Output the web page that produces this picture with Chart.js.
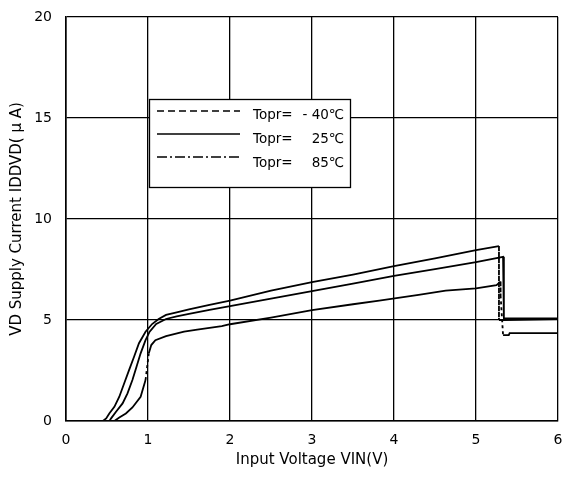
<!DOCTYPE html>
<html><head><meta charset="utf-8">
<script src="https://cdn.jsdelivr.net/npm/chart.js@4"></script>
<style>html,body{margin:0;padding:0;background:#fff}#wrap{width:565px;height:484px}</style>
</head><body><div id="wrap"><canvas id="c" width="565" height="484"></canvas></div>
<script>
// ---- data ----
const legendPrefix = 'Topr=';
const legendTemps = ['- 40℃', '25℃', '85℃'];
const seriesLabels = ['Topr= - 40℃', 'Topr= 25℃', 'Topr= 85℃'];
const xTicks = [0, 1, 2, 3, 4, 5, 6];
const yTicks = [0, 5, 10, 15, 20];

const vinM40 = [0, 0.45, 0.49, 0.53, 0.59, 0.65, 0.71, 0.77, 0.83, 0.89, 0.97, 1.05, 1.13, 1.22, 1.35, 1.5, 1.75, 2.0, 2.5, 3.0, 3.5, 4.0, 4.5, 5.0, 5.28, 5.28, 5.35, 6.0];
const iddM40 = [0, 0, 0.13, 0.38, 0.7, 1.2, 1.87, 2.53, 3.18, 3.85, 4.42, 4.8, 5.05, 5.25, 5.38, 5.52, 5.75, 5.96, 6.45, 6.87, 7.25, 7.67, 8.05, 8.46, 8.66, 5.0, 5.0, 5.05];

const vin25 = [0, 0.53, 0.55, 0.61, 0.69, 0.75, 0.81, 0.86, 0.91, 0.97, 1.02, 1.1, 1.22, 1.35, 1.5, 1.75, 2.0, 2.5, 3.0, 3.5, 4.0, 4.5, 5.0, 5.33, 5.34, 6.0];
const idd25 = [0, 0, 0.13, 0.46, 0.87, 1.37, 2.03, 2.69, 3.35, 4.0, 4.42, 4.8, 5.05, 5.18, 5.3, 5.5, 5.69, 6.06, 6.43, 6.8, 7.19, 7.52, 7.86, 8.13, 5.08, 5.08];

const vin85 = [0, 0.59, 0.65, 0.73, 0.81, 0.91, 0.97, 0.99, 1.01, 1.04, 1.09, 1.22, 1.44, 1.6, 1.9, 2.0, 2.5, 3.0, 3.5, 3.82, 4.3, 4.63, 5.0, 5.25, 5.3, 5.3, 5.33, 5.4, 5.41, 6.0];
const idd85 = [0, 0, 0.17, 0.37, 0.67, 1.2, 2.03, 2.69, 3.35, 3.76, 4.0, 4.2, 4.42, 4.52, 4.7, 4.79, 5.12, 5.49, 5.78, 5.96, 6.24, 6.45, 6.57, 6.72, 6.9, 6.2, 4.25, 4.25, 4.35, 4.35];

// ---- styles ----
const legendDash = [[7, 4], [], [10, 3, 2, 3]];
const dashedDrop = [true, false, true];
const FONT = "'DejaVu Sans', 'Liberation Sans', Arial, sans-serif";

function pts(xs, ys) { return xs.map((x, i) => ({ x: x, y: ys[i] })); }
const seriesData = [pts(vinM40, iddM40), pts(vin25, idd25), pts(vin85, idd85)];

const datasets = seriesData.map((d, i) => ({
  label: seriesLabels[i],
  data: d,
  borderColor: '#000',
  borderWidth: 1.8,
  pointRadius: 0,
  tension: 0,
  fill: false,
  segment: {
    borderDash: ctx => {
      if (!dashedDrop[i]) return undefined;
      const dx = Math.abs(ctx.p1.parsed.x - ctx.p0.parsed.x);
      const dy = Math.abs(ctx.p1.parsed.y - ctx.p0.parsed.y);
      return (dx < 0.05 && dy > 0.5) ? [3, 3] : undefined;
    }
  }
}));

const legendPlugin = {
  id: 'boxLegend',
  afterDraw(chart) {
    const ctx = chart.ctx;
    ctx.save();
    ctx.fillStyle = '#fff';
    ctx.fillRect(149, 99, 201, 88);
    ctx.strokeStyle = '#000';
    ctx.lineWidth = 1.3;
    ctx.strokeRect(149.5, 99.5, 201, 88);
    const rows = [111, 134, 157];
    const textY = [115, 139, 163];
    ctx.font = '13.5px ' + FONT;
    ctx.fillStyle = '#000';
    ctx.textBaseline = 'middle';
    for (let i = 0; i < 3; i++) {
      ctx.beginPath();
      ctx.setLineDash(legendDash[i]);
      ctx.lineWidth = 1.6;
      ctx.moveTo(157, rows[i]);
      ctx.lineTo(240, rows[i]);
      ctx.stroke();
      ctx.setLineDash([]);
      ctx.textAlign = 'left';
      ctx.fillText(legendPrefix, 253, textY[i]);
      ctx.textAlign = 'right';
      ctx.fillText(legendTemps[i], 344, textY[i]);
    }
    ctx.restore();
  }
};

new Chart(document.getElementById('c'), {
  type: 'line',
  data: { datasets: datasets },
  plugins: [legendPlugin],
  options: {
    responsive: false,
    devicePixelRatio: 1,
    animation: false,
    layout: { padding: { top: 17, right: 7, left: 0, bottom: 0 } },
    plugins: { legend: { display: false }, tooltip: { enabled: false } },
    scales: {
      x: {
        type: 'linear', min: 0, max: 6,
        afterBuildTicks: s => { s.ticks = xTicks.map(v => ({ value: v })); },
        afterFit: s => { s.height = 63; s.paddingLeft = 0; s.paddingRight = 0; },
        grid: { color: '#000', lineWidth: 1.3, drawTicks: false },
        border: { color: '#000', width: 1.6 },
        ticks: { color: '#000', padding: 11, font: { family: FONT, size: 14 }, maxRotation: 0 },
        title: { display: true, text: 'Input Voltage VIN(V)', color: '#000', font: { family: FONT, size: 15 }, padding: { top: 0, bottom: 15 } }
      },
      y: {
        type: 'linear', min: 0, max: 20,
        afterBuildTicks: s => { s.ticks = yTicks.map(v => ({ value: v })); },
        afterFit: s => { s.width = 66; s.paddingTop = 0; s.paddingBottom = 0; },
        grid: { color: '#000', lineWidth: 1.3, drawTicks: false },
        border: { color: '#000', width: 1.6 },
        ticks: { color: '#000', padding: 14, font: { family: FONT, size: 14 } },
        title: { display: true, text: 'VD Supply Current IDDVD( μ A)', color: '#000', font: { family: FONT, size: 15 }, padding: { top: 8, bottom: 0 } }
      }
    }
  }
});
</script>
</body></html>
